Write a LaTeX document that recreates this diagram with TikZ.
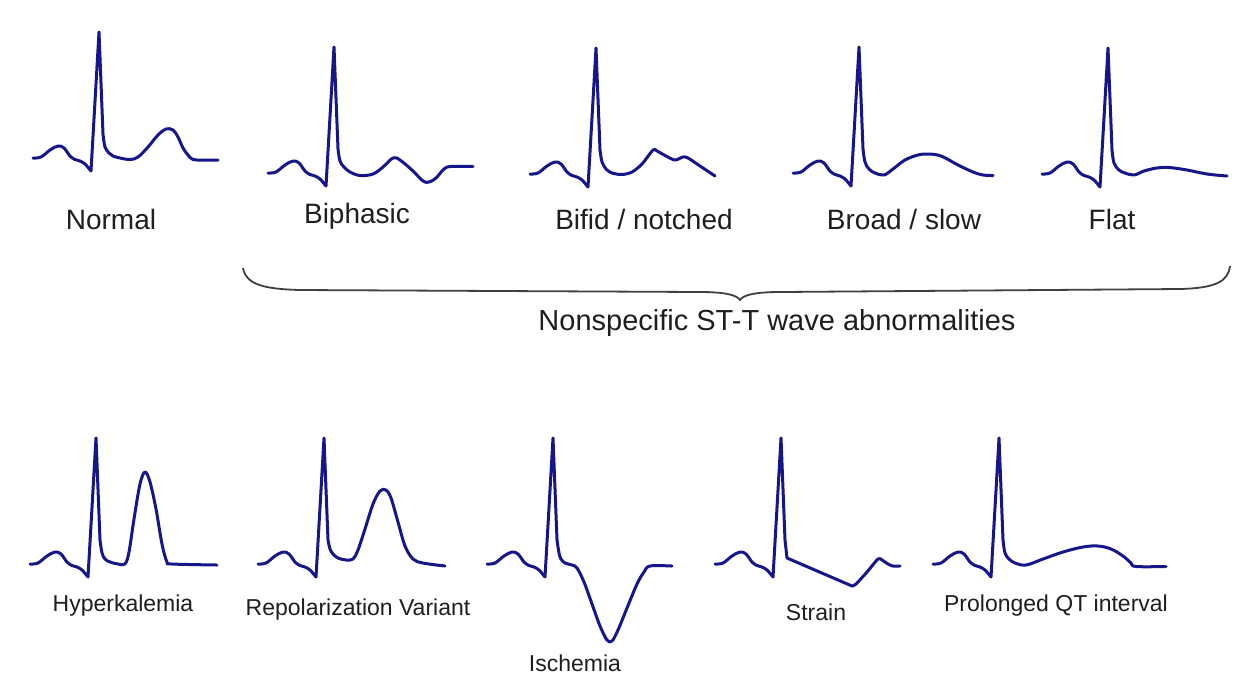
\documentclass[tikz,border=0pt]{standalone}
\usepackage{fontspec}
\setmainfont{Liberation Sans}
\usepackage{tikz}
\definecolor{ecgblue}{HTML}{16168A}
\definecolor{labelgray}{HTML}{1E1E1E}
\tikzset{
  ecgline/.style={draw=ecgblue, line width=1.5pt, line join=round, line cap=round},
  toplabel/.style={font=\fontsize{14}{16}\selectfont, text=labelgray, inner sep=0pt},
  botlabel/.style={font=\fontsize{11.5}{13}\selectfont, text=labelgray, inner sep=0pt},
  bracelabel/.style={font=\fontsize{14.5}{17}\selectfont, text=labelgray, inner sep=0pt},
  braceline/.style={draw=black!75, line width=0.9pt},
}
% P wave, Q dip and R spike, shared by every trace
\newcommand{\pqrs}{plot[smooth, tension=0.6] coordinates {(0,0) (8,-1) (17,-8) (25,-12) (31,-10) (37,-2) (42,1.5) (47,3) (52,6) (58,13)} -- (66,-126) -- (70,-24)}

\begin{document}
\begin{tikzpicture}[x=0.5pt, y=-0.5pt]
  \useasboundingbox (0,0) rectangle (1240,692);

  % top row
  \begin{scope}[shift={(33,158)}]
    \draw[ecgline] \pqrs -- plot[smooth, tension=0.6] coordinates {(70,-24) (72,-11) (76,-5) (80,-2) (87,0) (97,1.5) (105,-1) (115,-11) (125,-23) (133,-29) (140,-28) (145,-21) (150,-10) (155,-3) (160,1.5) (170,2) (185,2)};
  \end{scope}
  \begin{scope}[shift={(268,173)}]
    \draw[ecgline] \pqrs -- plot[smooth, tension=0.6] coordinates {(70,-24) (72,-12) (76,-6) (82,-1) (92,2.5) (105,1) (115,-6) (125,-15) (132,-13) (145,-2) (155,8) (161,9) (168,5) (176,-4) (183,-6.5) (205,-6.5)};
  \end{scope}
  \begin{scope}[shift={(530,174)}]
    \draw[ecgline] \pqrs -- plot[smooth, tension=0.5] coordinates {(70,-24) (72,-12) (76,-5) (82,-1) (92,0.5) (102,-2) (112,-10) (123,-24) (127,-23) (136,-18) (145,-14) (153,-17) (158,-16) (170,-8) (185,2)};
  \end{scope}
  \begin{scope}[shift={(793,173)}]
    \draw[ecgline] \pqrs -- plot[smooth, tension=0.6] coordinates {(70,-24) (72,-11) (76,-4) (82,0) (91,2) (100,-4) (112,-13) (125,-18) (135,-19) (148,-17) (165,-8) (180,-1) (190,2) (200,2.5)};
  \end{scope}
  \begin{scope}[shift={(1042,174)}]
    \draw[ecgline] \pqrs -- plot[smooth, tension=0.6] coordinates {(70,-24) (72,-11) (77,-4) (83,-1) (92,1) (102,-3) (115,-6) (127,-6.5) (145,-4) (165,0) (185,2)};
  \end{scope}

  \node[toplabel] (normal) at (111,219) {Normal};
  \node[toplabel] (biphasic) at (357,216) {Biphasic};
  \node[toplabel] (bifid) at (644,219) {Bifid / notched};
  \node[toplabel] (broad) at (904,219) {Broad / slow};
  \node[toplabel] (flat) at (1112,219) {Flat};

  % brace over the nonspecific group
  \draw[braceline] (243,268) .. controls (246,285) and (265,289) .. (300,290)
    -- (700,292) .. controls (725,292) and (737,295) .. (740,300)
    .. controls (743,295) and (755,292) .. (780,292)
    -- (1180,289) .. controls (1215,288) and (1228,282) .. (1230,266);
  \node[bracelabel] (nonspecific) at (777,323) {Nonspecific ST-T wave abnormalities};

  % bottom row
  \begin{scope}[shift={(30,564)}]
    \draw[ecgline] \pqrs -- plot[smooth, tension=0.55] coordinates {(70,-24) (72,-11) (75,-5) (80,-2) (88,0) (95,0) (99,-12) (104,-45) (110,-80) (115,-92) (120,-82) (126,-55) (132,-20) (137,-2) (142,0) (187,1)};
  \end{scope}
  \begin{scope}[shift={(258,564)}]
    \draw[ecgline] \pqrs -- plot[smooth, tension=0.55] coordinates {(70,-24) (72,-15) (75,-10) (80,-6) (88,-4) (95,-5) (100,-14) (107,-35) (115,-60) (122,-73) (128,-74) (133,-66) (140,-42) (147,-18) (155,-5) (165,-1) (187,2)};
  \end{scope}
  \begin{scope}[shift={(487,564)}]
    \draw[ecgline] \pqrs -- plot[smooth, tension=0.55] coordinates {(70,-24) (72,-11) (74,-5) (78,-1) (85,1) (90,4) (97,18) (105,40) (113,62) (120,76) (125,77) (131,66) (140,44) (150,20) (157,8) (163,2) (185,2)};
  \end{scope}
  \begin{scope}[shift={(715,564)}]
    \draw[ecgline] \pqrs -- (72,-6) -- (137,22) -- plot[smooth, tension=0.5] coordinates {(137,22) (141,20) (152,8) (163,-5) (167,-4) (173,0) (178,2) (185,2)};
  \end{scope}
  \begin{scope}[shift={(933,564)}]
    \draw[ecgline] \pqrs -- plot[smooth, tension=0.6] coordinates {(70,-24) (72,-11) (76,-5) (82,-1) (93,1) (110,-5) (130,-12) (150,-17) (165,-18) (178,-15) (190,-8) (198,-1) (203,2.5) (233,2.5)};
  \end{scope}

  \node[botlabel] (hyperkalemia) at (123,606) {Hyperkalemia};
  \node[botlabel] (repolarization) at (358,610) {Repolarization Variant};
  \node[botlabel] (ischemia) at (575,663) {Ischemia};
  \node[botlabel] (strain) at (816,612) {Strain};
  \node[botlabel] (prolonged) at (1056,606) {Prolonged QT interval};
\end{tikzpicture}
\end{document}
